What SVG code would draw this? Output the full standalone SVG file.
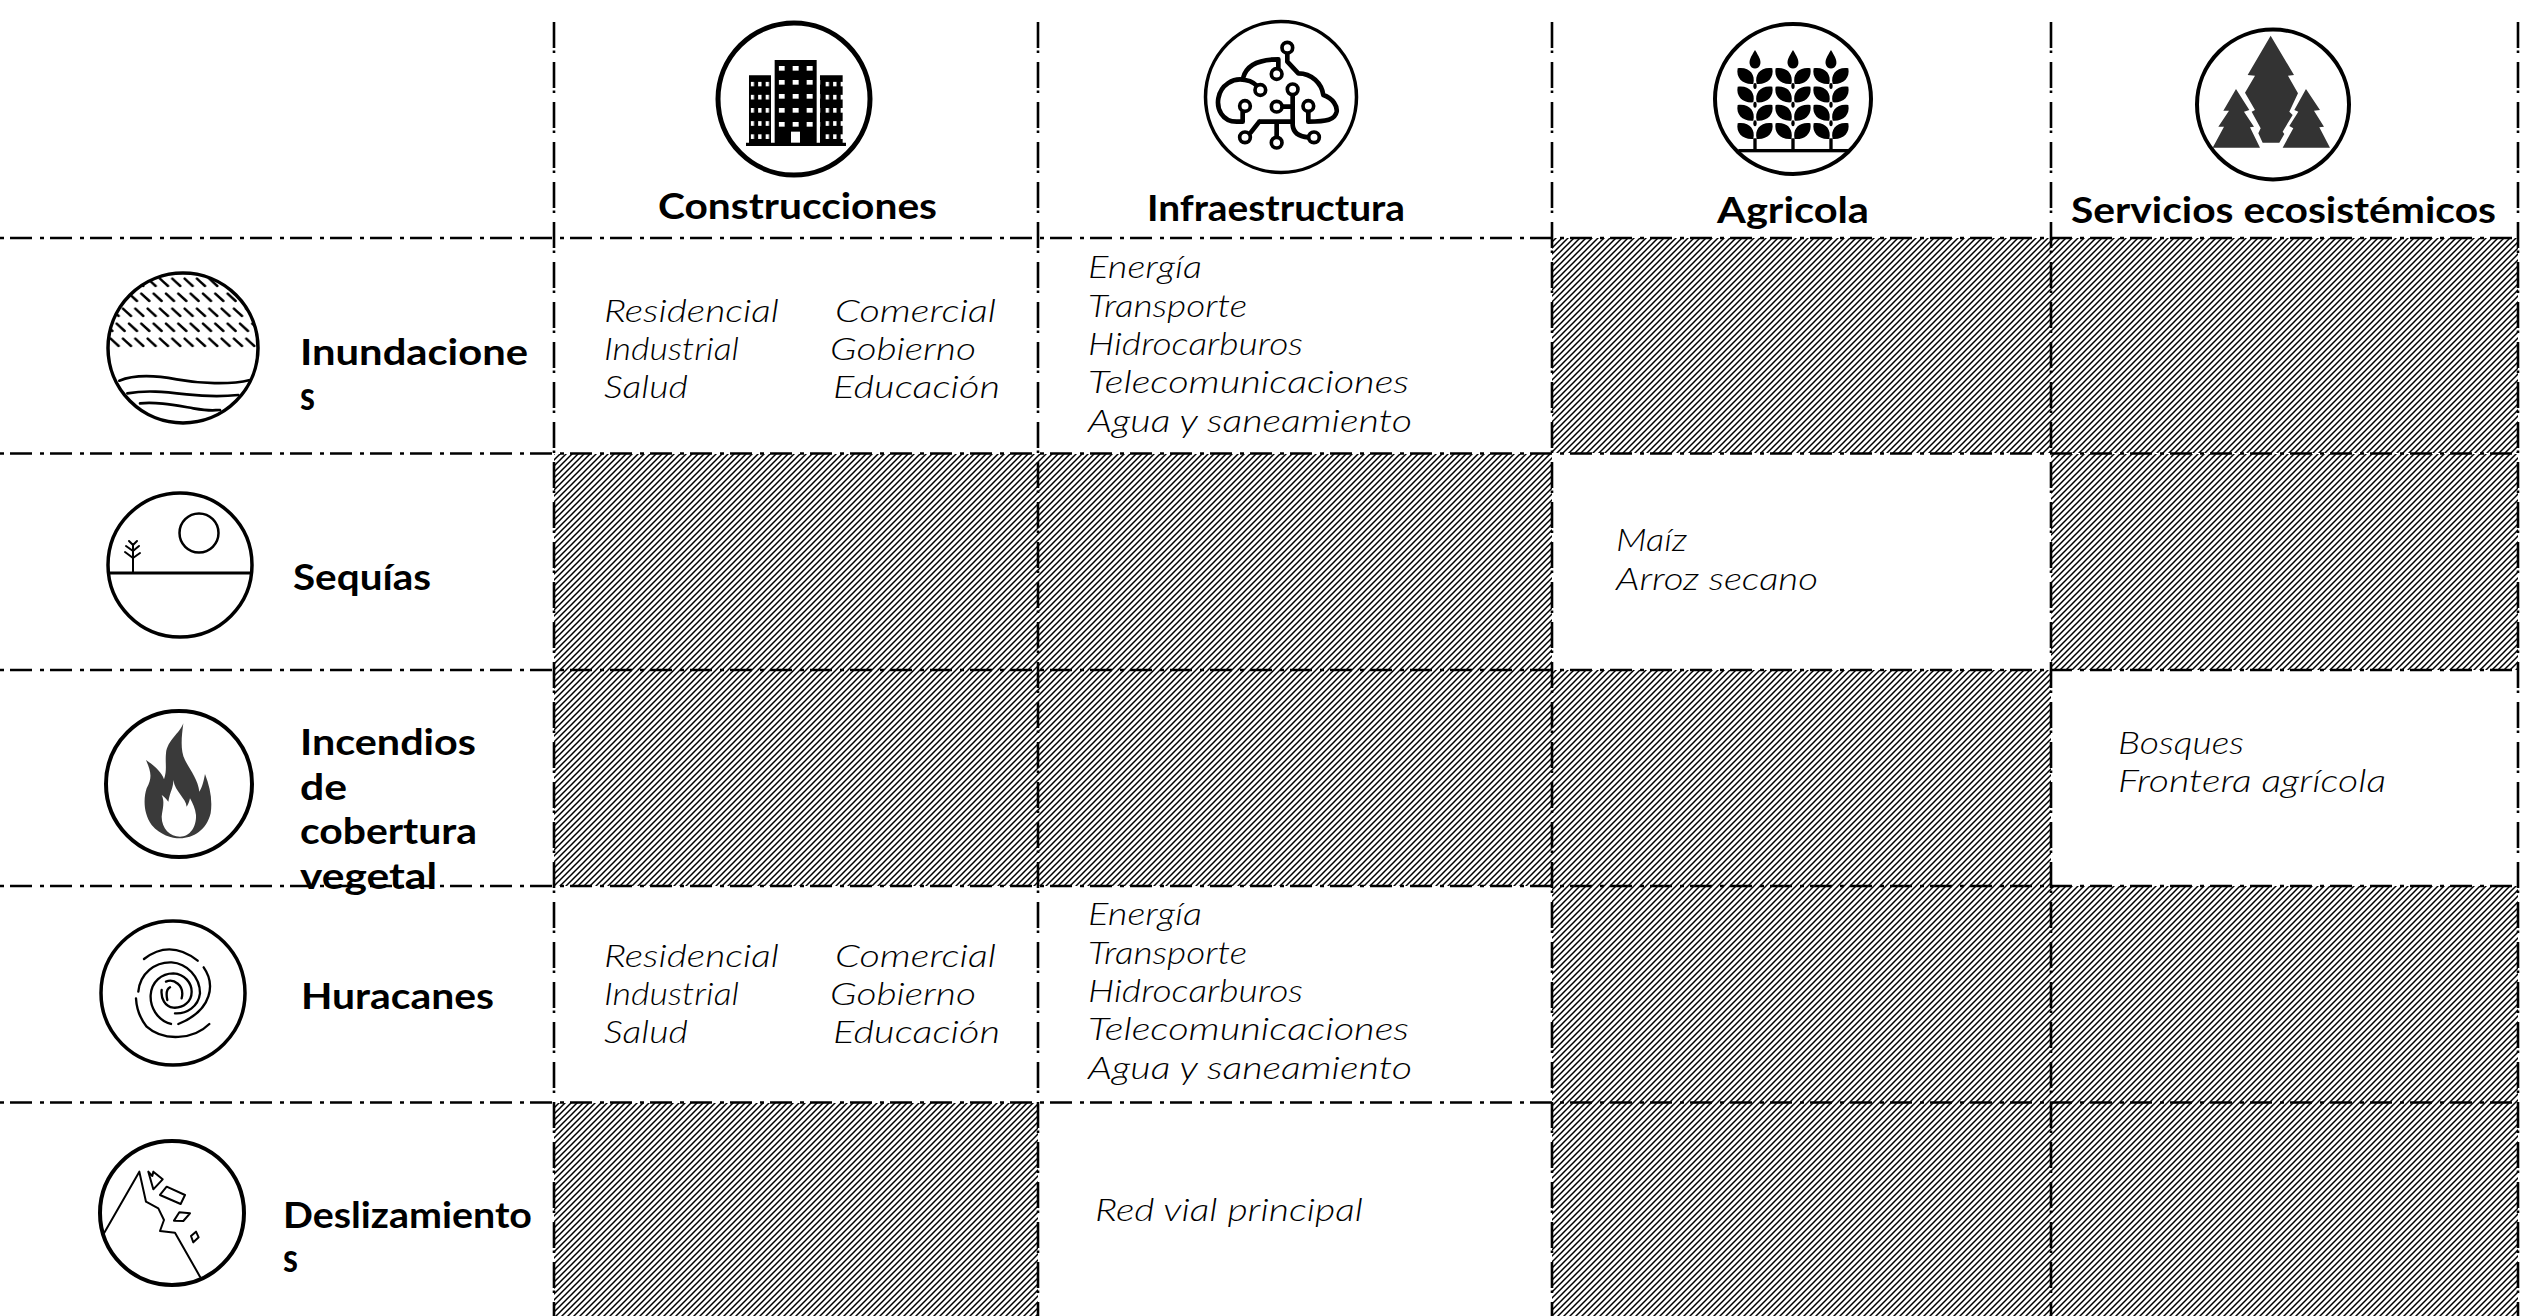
<svg xmlns="http://www.w3.org/2000/svg" xmlns:xlink="http://www.w3.org/1999/xlink" width="2526" height="1316" viewBox="0 0 2526 1316">
<style>
text{font-family:"Lato","Liberation Sans",sans-serif;fill:#000}
.h{font-weight:700;font-size:36px}
.s{font-weight:700;font-size:40px}
.b{font-style:italic;font-weight:300;font-size:32px}
.v{stroke:#000;stroke-width:2.6;stroke-dasharray:26 2.5 2.5 9;fill:none}
.hl{stroke:#000;stroke-width:2.6;stroke-dasharray:22 8 4 6;fill:none}
.ring{fill:#fff;stroke:#000}
.ln{fill:none;stroke:#000;stroke-linejoin:round;stroke-linecap:round}
.nd{fill:#fff;stroke:#000;stroke-width:11}
.hatch{fill:url(#hatch)}
</style>
<defs>
<pattern id="hatch" width="6" height="6" patternUnits="userSpaceOnUse"><path d="M-1.500,1.500 L1.500,-1.500 M0,6 L6,0 M4.500,7.500 L7.500,4.500" stroke="#000" stroke-width="1.500" fill="none"/></pattern>
<pattern id="winM" x="296" y="198" width="42" height="42" patternUnits="userSpaceOnUse"><rect width="18" height="14" fill="#fff"/></pattern>
<pattern id="winS" x="212" y="245" width="22.5" height="39.5" patternUnits="userSpaceOnUse"><rect width="10" height="14" fill="#fff"/></pattern>
<pattern id="rain" x="0" y="0" width="37" height="90" patternUnits="userSpaceOnUse"><path d="M6,11 L30,33 M-12,56 L12,78 M25,56 L49,78" stroke="#000" stroke-width="7.500" stroke-linecap="round"/></pattern>
<clipPath id="rainClip"><circle cx="280" cy="263" r="226"/></clipPath>
<g id="stalk">
<path d="M0,150 C12,170 18,180 16,192 C12,210 -12,210 -16,192 C-18,180 -12,170 0,150Z"/>
<g id="leafRow"><path d="M-52,205 C-18,200 2,222 -5,252 C-35,255 -58,235 -52,205Z M52,205 C18,200 -2,222 5,252 C35,255 58,235 52,205Z"/></g>
<use xlink:href="#leafRow" y="55"/><use xlink:href="#leafRow" y="110"/><use xlink:href="#leafRow" y="165"/>
<ellipse cx="0" cy="258" rx="5" ry="9"/><ellipse cx="0" cy="314" rx="5" ry="9"/><ellipse cx="0" cy="370" rx="5" ry="9"/>
<rect x="-5" y="415" width="10" height="35"/>
</g>
</defs>
<rect width="2526" height="1316" fill="#fff"/>
<g id="hatched-cells">
<rect class="hatch" x="1552" y="238" width="499" height="215"/>
<rect class="hatch" x="2051" y="238" width="467" height="215"/>
<rect class="hatch" x="554" y="454" width="484" height="216"/>
<rect class="hatch" x="1038" y="454" width="514" height="216"/>
<rect class="hatch" x="2051" y="454" width="467" height="216"/>
<rect class="hatch" x="554" y="670" width="484" height="216"/>
<rect class="hatch" x="1038" y="670" width="514" height="216"/>
<rect class="hatch" x="1552" y="670" width="499" height="216"/>
<rect class="hatch" x="1552" y="886" width="499" height="217"/>
<rect class="hatch" x="2051" y="886" width="467" height="217"/>
<rect class="hatch" x="554" y="1103" width="484" height="213"/>
<rect class="hatch" x="1552" y="1103" width="499" height="213"/>
<rect class="hatch" x="2051" y="1103" width="467" height="213"/>
</g>
<g id="connectors">
<path class="v" d="M554,22V1316M1038,22V1316M1552,22V1316M2051,22V1316M2518,22V1316"/>
<path class="hl" d="M-30,238H2518M-30,453.500H2518M-30,670H2518M-30,886H2518M-30,1102.500H2518"/>
</g>
<g id="col-construcciones">
<circle class="ring" cx="794" cy="99" r="76" stroke-width="5"/>
<g transform="translate(680,0) scale(.3333)">
<path d="M207,226H273V430H207Z M284,180H410V430H284Z M420,226H488V430H420Z M198,428H498V438H198Z"/>
<rect x="296" y="198" width="126" height="190" fill="url(#winM)"/>
<rect x="212" y="245" width="67.500" height="178" fill="url(#winS)"/>
<rect x="426" y="245" width="67.500" height="178" fill="url(#winS)"/>
<rect x="333" y="395" width="27" height="33" fill="#fff"/>
</g>
<text class="h" x="658" y="219" textLength="279" lengthAdjust="spacingAndGlyphs">Construcciones</text>
</g>
<g id="col-infraestructura">
<circle class="ring" cx="1281" cy="97" r="75.500" stroke-width="3.500"/>
<g transform="translate(1180,0) scale(.3333)">
<path class="ln" stroke-width="14" d="M188,335V365H170C125,365 110,325 115,295C122,255 160,232 195,240C215,243 232,255 240,270M190,232C200,195 240,178 295,178V205M322,160V185L355,220C395,220 425,250 430,285C460,295 472,320 470,335C465,360 440,365 385,365V335M306,320H338M338,285V375C340,400 360,410 385,412M238,365H335M238,365L212,398M290,365V410"/>
<circle class="nd" cx="322" cy="143" r="16"/><circle class="nd" cx="290" cy="222" r="16"/><circle class="nd" cx="241" cy="270" r="16"/><circle class="nd" cx="338" cy="268" r="16"/><circle class="nd" cx="195" cy="318" r="16"/><circle class="nd" cx="290" cy="320" r="16"/><circle class="nd" cx="385" cy="318" r="16"/><circle class="nd" cx="195" cy="412" r="16"/><circle class="nd" cx="290" cy="428" r="16"/><circle class="nd" cx="402" cy="412" r="16"/>
</g>
<text class="h" x="1147" y="221" textLength="258" lengthAdjust="spacingAndGlyphs">Infraestructura</text>
</g>
<g id="col-agricola">
<ellipse class="ring" cx="1793" cy="99" rx="78" ry="75" stroke-width="4"/>
<g transform="translate(1690,0) scale(.3333)">
<use xlink:href="#stalk" x="195"/><use xlink:href="#stalk" x="309"/><use xlink:href="#stalk" x="423"/>
<rect x="145" y="447" width="330" height="10"/>
</g>
<text class="h" x="1717" y="223" textLength="152" lengthAdjust="spacingAndGlyphs">Agricola</text>
</g>
<g id="col-servicios">
<ellipse class="ring" cx="2273" cy="104.500" rx="76" ry="75" stroke-width="4"/>
<g transform="translate(2160,0) scale(.3333)" fill="#333">
<path d="M332,107L402,225L384,227L414,280L388,335L398,345L368,395L373,402L358,428H308L295,400L302,385L275,335L285,330L255,278L285,227L263,225Z"/>
<path d="M228,267L268,330L252,335L282,380L270,382L300,443H158L192,380L175,380L207,332L190,332Z"/>
<path d="M438,267L480,330L462,332L492,380L478,382L510,443H368L400,385L388,378L415,335L403,330Z"/>
</g>
<text class="h" x="2071" y="223" textLength="425" lengthAdjust="spacingAndGlyphs">Servicios ecosistémicos</text>
</g>
<g id="row-inundaciones">
<circle class="ring" cx="183" cy="348" r="75" stroke-width="3.500"/>
<g transform="translate(90,260) scale(.3333)">
<rect x="50" y="40" width="460" height="235" fill="url(#rain)" clip-path="url(#rainClip)"/>
<path class="ln" stroke-width="8" d="M88,362C130,345 190,345 260,358S420,375 480,360M112,400C170,390 220,395 290,403S400,410 445,405M150,430C200,425 250,435 310,445S370,450 390,450"/>
</g>
<text class="h" x="300" y="365" textLength="228" lengthAdjust="spacingAndGlyphs">Inundacione</text>
<text class="s" x="300" y="410" textLength="15" lengthAdjust="spacingAndGlyphs">s</text>
</g>
<g id="row-sequias">
<circle class="ring" cx="180" cy="565" r="72" stroke-width="3.500"/>
<circle cx="199" cy="533" r="19.500" fill="none" stroke="#000" stroke-width="2.500"/>
<path class="ln" stroke-width="3" d="M109,573H251"/>
<path class="ln" stroke-width="2" d="M133,573V545M133,558L125,552M133,558L140,553M133,551L126,546M133,551L139,546M133,545L129,541M133,545L137,541"/>
<text class="h" x="293" y="590" textLength="138" lengthAdjust="spacingAndGlyphs">Sequías</text>
</g>
<g id="row-incendios">
<circle class="ring" cx="179" cy="784" r="73" stroke-width="4"/>
<g transform="translate(90,700) scale(.3333)">
<path fill="#3a3a3a" d="M280,70C270,100 232,120 228,160C225,190 232,210 222,238C215,215 190,195 168,180C180,210 190,230 170,265C160,295 160,340 185,375C210,405 245,415 270,415C310,415 350,390 362,340C368,300 360,260 345,222C340,250 335,265 328,275C325,240 300,210 285,180C270,150 275,110 280,70Z"/>
<path fill="#fff" d="M250,240C250,265 240,275 235,305C228,295 222,290 215,285C225,305 218,325 215,350C215,385 240,410 270,410C300,410 320,380 318,345C316,325 308,310 300,295C298,305 294,315 290,320C288,295 255,275 250,240Z"/>
</g>
<text class="h" x="300" y="755" textLength="176" lengthAdjust="spacingAndGlyphs">Incendios</text>
<text class="h" x="300" y="800" textLength="47" lengthAdjust="spacingAndGlyphs">de</text>
<text class="h" x="300" y="844" textLength="177" lengthAdjust="spacingAndGlyphs">cobertura</text>
<text class="h" x="300" y="889" textLength="137" lengthAdjust="spacingAndGlyphs">vegetal</text>
</g>
<g id="row-huracanes">
<circle class="ring" cx="173" cy="993" r="72" stroke-width="3.500"/>
<g transform="translate(90,910) scale(.3333)">
<path class="ln" stroke-width="7" d="M162,147Q240,87 323,152M341,172C375,220 370,300 265,342M358,342C310,390 220,395 170,350C150,325 140,300 138,265M145,245C150,190 195,155 245,157C290,160 330,200 330,250C325,290 290,312 255,310M243,342C200,330 180,290 182,255C185,215 215,190 250,190C285,192 305,220 305,245C305,275 280,295 250,293C225,290 212,265 215,240M228,215C250,205 285,225 275,265M240,232C225,240 230,260 232,270"/>
</g>
<text class="h" x="301" y="1009" textLength="193" lengthAdjust="spacingAndGlyphs">Huracanes</text>
</g>
<g id="row-deslizamientos">
<circle class="ring" cx="172" cy="1213" r="72" stroke-width="4"/>
<g transform="translate(90,1130) scale(.3333)">
<path class="ln" stroke-width="6" d="M42,310L148,125L168,215L205,235L222,270L210,303L255,308L330,440M175,125L190,178L218,148L190,125L187,138ZM210,195L230,170L285,195L272,222ZM252,272L268,247L300,250L280,273ZM303,318L318,305L326,322L310,337Z"/>
</g>
<text class="h" x="283" y="1228" textLength="249" lengthAdjust="spacingAndGlyphs">Deslizamiento</text>
<text class="s" x="283" y="1272" textLength="15" lengthAdjust="spacingAndGlyphs">s</text>
</g>
<g id="cell-inundaciones-construcciones">
<text class="b" x="604" y="322" textLength="175" lengthAdjust="spacingAndGlyphs">Residencial</text>
<text class="b" x="835" y="322" textLength="161" lengthAdjust="spacingAndGlyphs">Comercial</text>
<text class="b" x="604" y="360" textLength="135" lengthAdjust="spacingAndGlyphs">Industrial</text>
<text class="b" x="830" y="360" textLength="146" lengthAdjust="spacingAndGlyphs">Gobierno</text>
<text class="b" x="604" y="398" textLength="84" lengthAdjust="spacingAndGlyphs">Salud</text>
<text class="b" x="833" y="398" textLength="167" lengthAdjust="spacingAndGlyphs">Educación</text>
</g>
<g id="cell-inundaciones-infraestructura">
<text class="b" x="1088" y="278" textLength="114" lengthAdjust="spacingAndGlyphs">Energía</text>
<text class="b" x="1088" y="317" textLength="159" lengthAdjust="spacingAndGlyphs">Transporte</text>
<text class="b" x="1088" y="355" textLength="215" lengthAdjust="spacingAndGlyphs">Hidrocarburos</text>
<text class="b" x="1088" y="393" textLength="321" lengthAdjust="spacingAndGlyphs">Telecomunicaciones</text>
<text class="b" x="1088" y="432" textLength="324" lengthAdjust="spacingAndGlyphs">Agua y saneamiento</text>
</g>
<g id="cell-sequias-agricola">
<text class="b" x="1616" y="551" textLength="71" lengthAdjust="spacingAndGlyphs">Maíz</text>
<text class="b" x="1616" y="590" textLength="202" lengthAdjust="spacingAndGlyphs">Arroz secano</text>
</g>
<g id="cell-incendios-servicios">
<text class="b" x="2118" y="754" textLength="126" lengthAdjust="spacingAndGlyphs">Bosques</text>
<text class="b" x="2118" y="792" textLength="268" lengthAdjust="spacingAndGlyphs">Frontera agrícola</text>
</g>
<g id="cell-huracanes-construcciones">
<text class="b" x="604" y="967" textLength="175" lengthAdjust="spacingAndGlyphs">Residencial</text>
<text class="b" x="835" y="967" textLength="161" lengthAdjust="spacingAndGlyphs">Comercial</text>
<text class="b" x="604" y="1005" textLength="135" lengthAdjust="spacingAndGlyphs">Industrial</text>
<text class="b" x="830" y="1005" textLength="146" lengthAdjust="spacingAndGlyphs">Gobierno</text>
<text class="b" x="604" y="1043" textLength="84" lengthAdjust="spacingAndGlyphs">Salud</text>
<text class="b" x="833" y="1043" textLength="167" lengthAdjust="spacingAndGlyphs">Educación</text>
</g>
<g id="cell-huracanes-infraestructura">
<text class="b" x="1088" y="925" textLength="114" lengthAdjust="spacingAndGlyphs">Energía</text>
<text class="b" x="1088" y="964" textLength="159" lengthAdjust="spacingAndGlyphs">Transporte</text>
<text class="b" x="1088" y="1002" textLength="215" lengthAdjust="spacingAndGlyphs">Hidrocarburos</text>
<text class="b" x="1088" y="1040" textLength="321" lengthAdjust="spacingAndGlyphs">Telecomunicaciones</text>
<text class="b" x="1088" y="1079" textLength="324" lengthAdjust="spacingAndGlyphs">Agua y saneamiento</text>
</g>
<g id="cell-deslizamientos-infraestructura">
<text class="b" x="1095" y="1221" textLength="268" lengthAdjust="spacingAndGlyphs">Red vial principal</text>
</g>
</svg>
